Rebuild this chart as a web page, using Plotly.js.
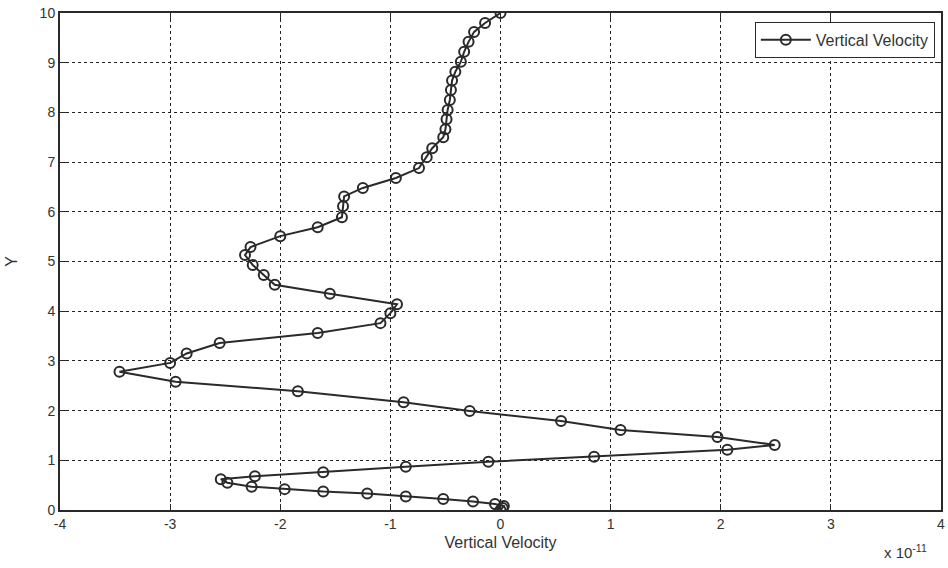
<!DOCTYPE html>
<html>
<head>
<meta charset="utf-8">
<script src="https://cdn.plot.ly/plotly-3.0.1.min.js"></script>
<style>html,body{margin:0;padding:0;background:#fff;}#chart{width:948px;height:568px;}</style>
</head>
<body>
<div id="chart"></div>
<script>
// Vertical velocity in units of 1e-11, Y position
const velocity = [
  0.00, 0.02, 0.03, -0.05, -0.25, -0.52, -0.86, -1.21, -1.61, -1.96, -2.26, -2.48, -2.54,
  -2.23, -1.61, -0.86, -0.11, 0.85, 2.06, 2.49,
  1.97, 1.09, 0.55, -0.28, -0.88, -1.84, -2.95, -3.46,
  -3.00, -2.85, -2.55, -1.66, -1.09, -1.00, -0.94,
  -1.55, -2.05, -2.15, -2.25, -2.32, -2.27,
  -2.00, -1.66, -1.44, -1.43, -1.42, -1.25, -0.95, -0.74, -0.67, -0.62,
  -0.52, -0.50, -0.49, -0.48, -0.46, -0.45, -0.44, -0.41, -0.36, -0.33, -0.29, -0.24, -0.14, 0.00
];
const yPos = [
  0.00, 0.04, 0.08, 0.12, 0.17, 0.22, 0.27, 0.33, 0.37, 0.42, 0.47, 0.55, 0.62,
  0.68, 0.76, 0.87, 0.97, 1.07, 1.21, 1.31,
  1.47, 1.61, 1.79, 1.99, 2.17, 2.39, 2.58, 2.78,
  2.96, 3.15, 3.36, 3.56, 3.76, 3.96, 4.14,
  4.35, 4.53, 4.73, 4.93, 5.13, 5.29,
  5.51, 5.69, 5.89, 6.11, 6.31, 6.48, 6.68, 6.88, 7.10, 7.28,
  7.50, 7.66, 7.86, 8.05, 8.25, 8.45, 8.64, 8.82, 9.02, 9.22, 9.42, 9.62, 9.80, 10.00
];
const xTicks = [-4, -3, -2, -1, 0, 1, 2, 3, 4];
const yTicks = [0, 1, 2, 3, 4, 5, 6, 7, 8, 9, 10];
const seriesName = 'Vertical Velocity';

const fontFam = 'Liberation Sans, Arial, sans-serif';
const trace = {
  x: velocity, y: yPos, type: 'scatter', mode: 'lines+markers', name: seriesName,
  line: {color: '#2a2a2a', width: 2},
  marker: {symbol: 'circle-open', size: 10, color: '#2a2a2a', line: {width: 2, color: '#2a2a2a'}}
};
const axisCommon = {
  showline: true, linecolor: '#2a2a2a', linewidth: 2, mirror: 'ticks',
  ticks: 'inside', ticklen: 6, tickcolor: '#2a2a2a', tickwidth: 1,
  showgrid: true, gridcolor: '#222222', gridwidth: 1, griddash: '3px,3px',
  zeroline: false, tickfont: {family: fontFam, size: 14, color: '#333333'}
};
const layout = {
  width: 948, height: 568,
  margin: {l: 60, r: 7, t: 13, b: 58},
  paper_bgcolor: '#ffffff', plot_bgcolor: '#ffffff',
  showlegend: true,
  legend: {x: 0.993, y: 0.982, xanchor: 'right', yanchor: 'top', itemwidth: 50,
    bgcolor: '#ffffff', bordercolor: '#2a2a2a', borderwidth: 1,
    font: {family: fontFam, size: 16, color: '#333333'}},
  xaxis: Object.assign({}, axisCommon, {range: [-4, 4], tickvals: xTicks, ticktext: xTicks.map(String),
    title: {text: 'Vertical Velocity', standoff: 6, font: {family: fontFam, size: 16, color: '#333333'}}}),
  yaxis: Object.assign({}, axisCommon, {range: [0, 10], tickvals: yTicks, ticktext: yTicks.map(String),
    title: {text: 'Y', standoff: 18, font: {family: fontFam, size: 16, color: '#333333'}}}),
  annotations: [{
    xref: 'paper', yref: 'paper', x: 0.986, y: -0.06, xanchor: 'right', yanchor: 'top',
    text: 'x 10<sup>-11</sup>', showarrow: false,
    font: {family: fontFam, size: 15, color: '#333333'}
  }]
};
Plotly.newPlot('chart', [trace], layout, {displayModeBar: false, staticPlot: true});
</script>
</body>
</html>
